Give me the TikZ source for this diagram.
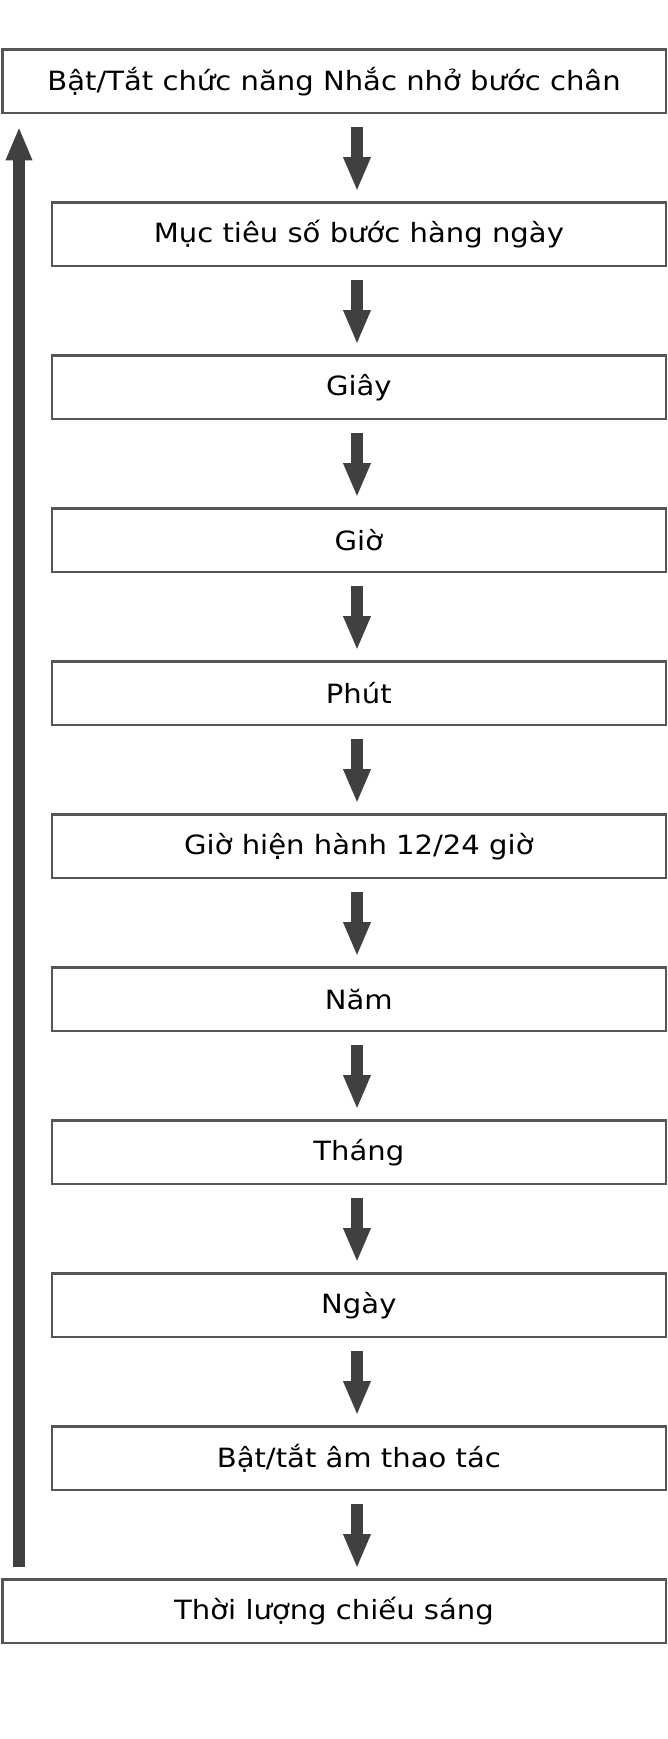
\documentclass[tikz,border=0pt]{standalone}
\usepackage{fontspec}
\setmainfont{DejaVu Sans}[FakeStretch=1.097]
\usetikzlibrary{arrows.meta}
\definecolor{edgegray}{HTML}{555555}
\definecolor{arrgray}{HTML}{404040}
\begin{document}
\begin{tikzpicture}[x=1pt,y=1pt,
  box/.style={draw=edgegray, line width=2.5pt, minimum height=63.5pt, inner sep=0pt,
    font=\fontsize{26.5}{30}\selectfont, text=black},
  wide/.style={box, minimum width=663.5pt},
  narrow/.style={box, minimum width=613.8pt},
  flow/.style={draw=arrgray, line width=12pt,
    -{Triangle[length=32.6pt,width=28pt,line width=0pt]}}]
\useasboundingbox (0,0) rectangle (668,-1739);
\node[wide]   (b0)  at (334,-81.3)      {Bật/Tắt chức năng Nhắc nhở bước chân};
\node[narrow] (b1)  at (358.85,-234.3)  {Mục tiêu số bước hàng ngày};
\node[narrow] (b2)  at (358.85,-387.3)  {Giây};
\node[narrow] (b3)  at (358.85,-540.3)  {Giờ};
\node[narrow] (b4)  at (358.85,-693.3)  {Phút};
\node[narrow] (b5)  at (358.85,-846.3)  {Giờ hiện hành 12/24 giờ};
\node[narrow] (b6)  at (358.85,-999.3)  {Năm};
\node[narrow] (b7)  at (358.85,-1152.3) {Tháng};
\node[narrow] (b8)  at (358.85,-1305.3) {Ngày};
\node[narrow] (b9)  at (358.85,-1458.3) {Bật/tắt âm thao tác};
\node[wide]   (b10) at (334,-1611.3)    {Thời lượng chiếu sáng};
\coordinate (ax) at (357,0);
\coordinate (lx) at (19,0);
\foreach \a/\b in {b0/b1,b1/b2,b2/b3,b3/b4,b4/b5,b5/b6,b6/b7,b7/b8,b8/b9,b9/b10}
  \draw[flow, shorten <=13pt, shorten >=11.5pt] (\a.south -| ax) -- (\b.north -| ax);
\draw[flow, shorten <=11pt, shorten >=14pt, -{Triangle[length=32pt,width=27pt,line width=0pt]}]
  (b10.north -| lx) -- (b0.south -| lx);
\end{tikzpicture}
\end{document}
